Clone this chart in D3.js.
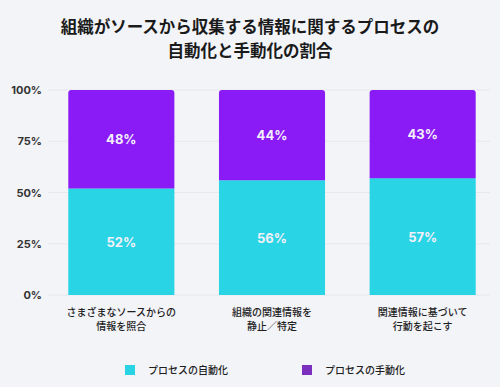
<!DOCTYPE html>
<html>
<head>
<meta charset="utf-8">
<script src="https://cdn.jsdelivr.net/npm/d3@7"></script>
<style>
  body { margin: 0; background: #f3f4f8; }
  svg { display: block; font-family: "Inter", "Noto Sans CJK JP", sans-serif; }
</style>
</head>
<body>
<div id="root"></div>
<script>
// data
var categories = [
  ["さまざまなソースからの", "情報を照合"],
  ["組織の関連情報を", "静止／特定"],
  ["関連情報に基づいて", "行動を起こす"]
];
var automated = [52, 56, 57];
var manual = [48, 44, 43];
var seriesNames = ["プロセスの自動化", "プロセスの手動化"];
var yTicks = [0, 25, 50, 75, 100];
var titleLines = ["組織がソースから収集する情報に関するプロセスの", "自動化と手動化の割合"];

var width = 500, height = 387;
var colors = ["#29d4e4", "#8a1bf6"];
var legendColors = ["#2ad3e3", "#7a2fbf"];

var svg = d3.select("#root")
            .append("svg")
            .attr("width", width)
            .attr("height", height);

svg.append("rect").attr("width", width).attr("height", height).attr("fill", "#f3f4f8");

// title
svg.append("g").selectAll("text")
   .data(titleLines)
   .enter().append("text")
   .attr("x", 250)
   .attr("y", (d, i) => 33 + i * 24)
   .attr("text-anchor", "middle")
   .attr("font-size", 16.5)
   .attr("font-weight", 700)
   .attr("fill", "#1a1a1a")
   .text(d => d);

var idx = d3.range(categories.length);

var x = d3.scaleBand()
          .domain(idx)
          .range([46, 498])
          .paddingInner(0.296)
          .paddingOuter(0.148);

var y = d3.scaleLinear()
          .domain([0, 100])
          .range([295, 90]);

// gridlines
svg.append("g").selectAll("line")
   .data(yTicks)
   .enter().append("line")
   .attr("x1", 48).attr("x2", 490)
   .attr("y1", d => y(d)).attr("y2", d => y(d))
   .attr("stroke", "#e6e8ed")
   .attr("stroke-width", 1);

// y axis labels
var yAxis = d3.axisLeft(y).tickValues(yTicks).tickFormat(d => d + "%").tickSize(0).tickPadding(0);
var ya = svg.append("g")
   .attr("transform", "translate(42,0)")
   .call(yAxis);
ya.select(".domain").remove();
ya.selectAll("text")
  .attr("font-size", 11)
  .attr("font-weight", 700)
  .attr("fill", "#333")
  .attr("font-family", "Inter, sans-serif");

var r = 3;
// automated (bottom)
svg.append("g").selectAll("rect")
   .data(idx)
   .enter().append("rect")
   .attr("x", i => x(i))
   .attr("width", x.bandwidth())
   .attr("y", i => y(automated[i]))
   .attr("height", i => y(0) - y(automated[i]))
   .attr("fill", colors[0]);

// manual (top) with rounded top corners
svg.append("g").selectAll("path")
   .data(idx)
   .enter().append("path")
   .attr("d", i => {
     var x0 = x(i), x1 = x(i) + x.bandwidth();
     var y0 = y(100), y1 = y(automated[i]);
     return "M" + x0 + "," + y1 + "V" + (y0 + r) + "Q" + x0 + "," + y0 + " " + (x0 + r) + "," + y0 +
            "H" + (x1 - r) + "Q" + x1 + "," + y0 + " " + x1 + "," + (y0 + r) + "V" + y1 + "Z";
   })
   .attr("fill", colors[1]);

// value labels
var labels = svg.append("g")
   .attr("font-size", 13)
   .attr("font-weight", 700)
   .attr("fill", "#f4f0fa")
   .attr("text-anchor", "middle");
labels.selectAll("text.a")
   .data(idx).enter().append("text").attr("class", "a")
   .attr("x", i => x(i) + x.bandwidth() / 2)
   .attr("y", i => y(automated[i] / 2) + 5)
   .text(i => automated[i] + "%");
labels.selectAll("text.m")
   .data(idx).enter().append("text").attr("class", "m")
   .attr("x", i => x(i) + x.bandwidth() / 2)
   .attr("y", i => y(automated[i] + manual[i] / 2) + 5)
   .text(i => manual[i] + "%");

// category labels
var cat = svg.append("g").selectAll("text")
   .data(idx).enter().append("text")
   .attr("x", i => x(i) + x.bandwidth() / 2)
   .attr("text-anchor", "middle")
   .attr("font-size", 10)
   .attr("font-weight", 500)
   .attr("fill", "#1e1e1e");
cat.selectAll("tspan")
   .data(i => categories[i].map(t => ({ t: t, cx: x(i) + x.bandwidth() / 2 })))
   .enter().append("tspan")
   .attr("x", d => d.cx)
   .attr("y", (d, j) => 316 + j * 14)
   .text(d => d.t);

// legend
var legendX = [125, 302];
var lg = svg.append("g").selectAll("g")
   .data(seriesNames).enter().append("g")
   .attr("transform", (d, i) => "translate(" + legendX[i] + ",365)");
lg.append("rect").attr("width", 10).attr("height", 10).attr("fill", (d, i) => legendColors[i]);
lg.append("text")
  .attr("x", 23).attr("y", 9)
  .attr("font-size", 10)
  .attr("font-weight", 500)
  .attr("fill", "#1e1e1e")
  .text(d => d);
</script>
</body>
</html>
